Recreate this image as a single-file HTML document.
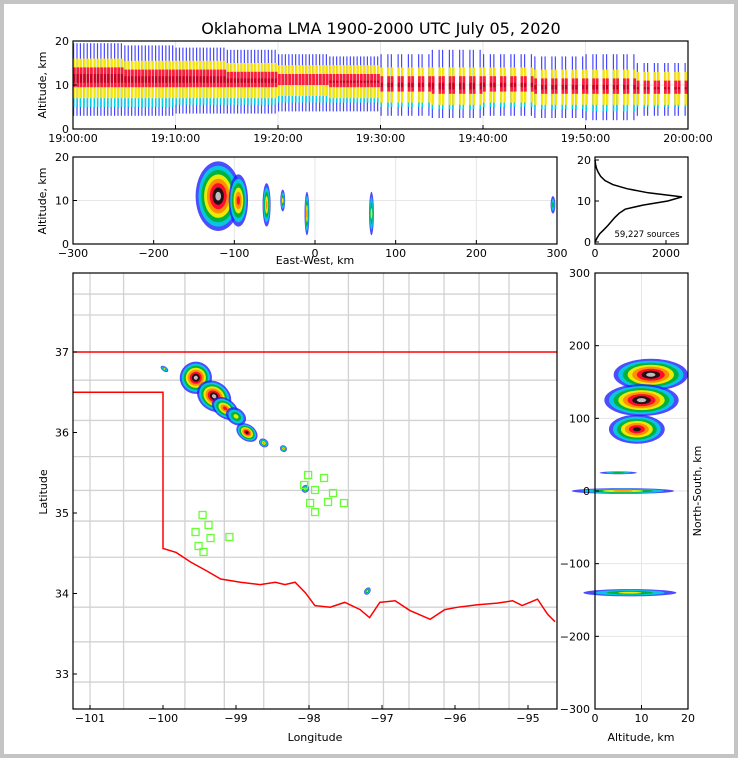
<!DOCTYPE html>
<html><head><meta charset="utf-8"><style>
html,body{margin:0;padding:0;background:#fff}
svg{display:block}
text{font-family:"DejaVu Sans","Liberation Sans",sans-serif;fill:#000}
</style></head><body>
<svg id="c" width="738" height="758" xmlns="http://www.w3.org/2000/svg">
<rect x="0" y="0" width="738" height="758" fill="#c4c4c4"/>
<rect x="4" y="4" width="730" height="750" fill="#fff"/>
<text x="381" y="34" font-size="16" text-anchor="middle">Oklahoma LMA 1900-2000 UTC July 05, 2020</text>
<g id="g"></g>
</svg>
<script>
// ---- data ----
const timeBinMin=[0,5,10,15,20,25,30,35,40,45,50,55];
const timeTop=[19.5,19,18.5,18,17,16.5,17,18,17,16.5,17,15];
const timeBot=[3,3,3.5,3.5,4,4,3,2.5,3,2.5,2,3];
const timeCoreTop=[14,13.5,13.5,13,12.5,12.5,12,12,12,11.5,11.5,11];
const timeCoreBot=[9.5,9.5,9.5,9.5,10,9.5,8.5,8,8.5,8,8,8];
const timeDensity=[1,1,0.95,0.9,0.8,0.7,0.65,0.6,0.55,0.5,0.5,0.45];

const ewCenters=[-120,-95,-60,-40,-10,70,295];
const ewAltCenters=[11,10,9,10,7,7,9];
const ewHalfWidth=[28,12,5,3,3,3,3];
const ewAltHalf=[8,6,5,2.5,5,5,2];
const ewIntensity=[5,3,2,1,2,1,0];

const histAlt=[0,1,2,3,4,5,6,7,8,9,10,11,12,13,14,15,16,17,18,19,20];
const histCount=[0,60,130,250,360,460,560,680,850,1350,2050,2450,1500,900,500,280,160,90,40,15,0];
const histLabel="59,227 sources";

const mapLonTicks=[-101,-100,-99,-98,-97,-96,-95];
const mapLatTicks=[33,34,35,36,37];
const stormLon=[-99.55,-99.3,-99.15,-98.85,-98.62,-98.35,-98.05,-99.98,-97.2,-99.0];
const stormLat=[36.68,36.45,36.3,36.0,35.87,35.8,35.3,36.79,34.03,36.2];
const stormRx=[0.22,0.25,0.2,0.16,0.07,0.05,0.05,0.06,0.04,0.15];
const stormRy=[0.2,0.18,0.12,0.1,0.05,0.04,0.05,0.03,0.05,0.1];
const stormIntensity=[5,5,3,4,2,2,2,1,1,1];
const stationLon=[-99.458,-99.376,-99.554,-99.349,-99.513,-99.445,-99.090,-98.012,-97.794,-98.067,-97.917,-97.671,-97.985,-97.739,-97.521,-97.917];
const stationLat=[34.975,34.851,34.764,34.689,34.590,34.516,34.702,35.472,35.435,35.348,35.286,35.248,35.124,35.137,35.124,35.012];
const countyLon=[-101.0,-100.54,-99.7,-99.16,-98.62,-98.0,-97.46,-96.98,-96.63,-96.15,-95.67,-95.26];
const countyLat=[37.72,37.46,36.65,36.15,35.7,35.28,34.9,34.45,33.83,33.4,32.9];
const redRiverLon=[-100.0,-99.82,-99.62,-99.42,-99.21,-98.94,-98.67,-98.46,-98.33,-98.19,-98.05,-97.92,-97.71,-97.51,-97.3,-97.17,-97.03,-96.82,-96.62,-96.34,-96.14,-95.96,-95.69,-95.42,-95.21,-95.08,-94.87,-94.73,-94.63];
const redRiverLat=[34.56,34.51,34.39,34.29,34.18,34.14,34.11,34.14,34.11,34.14,34.01,33.85,33.83,33.89,33.8,33.7,33.89,33.91,33.79,33.68,33.8,33.83,33.86,33.88,33.91,33.85,33.93,33.74,33.65];

const nsCenters=[160,125,85,0,-140,25];
const nsAltCenters=[12,10,9,6,7.5,5];
const nsHalf=[22,22,20,4,5,2];
const nsAltHalf=[8,8,6,11,10,4];
const nsIntensity=[5,5,4,2,1,0];

// ---- helpers ----
const NS='http://www.w3.org/2000/svg';
const G=document.getElementById('g');
function mk(tag,attrs,parent){const e=document.createElementNS(NS,tag);for(const k in attrs)e.setAttribute(k,attrs[k]);(parent||G).appendChild(e);return e;}
function lin(d0,d1,r0,r1){return v=>r0+(v-d0)*(r1-r0)/(d1-d0);}
const ramp=['#2020ff','#00d0e0','#00b030','#ffee00','#ff8800','#ff0033','#111111','#cccccc'];

const P1={x0:73,x1:688,y0:41,y1:129};
const P2={x0:73,x1:557,y0:157,y1:244};
const P3={x0:595,x1:688,y0:157,y1:244};
const PM={x0:73,x1:557,y0:273,y1:709};
const PN={x0:595,x1:688,y0:273,y1:709};

function frame(P,name){const r=mk('rect',{x:P.x0,y:P.y0,width:P.x1-P.x0,height:P.y1-P.y0,fill:'none',stroke:'#000','stroke-width':1.2});

}
function txt(x,y,s,size,anchor,name,rot){const t=mk('text',{x:x,y:y,'font-size':size,'text-anchor':anchor});t.textContent=s;


if(rot)t.setAttribute('transform','rotate(-90 '+x+' '+y+')');return t;}
function grid(P,xs,ys){xs.forEach(x=>mk('line',{x1:x,x2:x,y1:P.y0,y2:P.y1,stroke:'#e6e6e6','stroke-width':1}));ys.forEach(y=>mk('line',{x1:P.x0,x2:P.x1,y1:y,y2:y,stroke:'#e6e6e6','stroke-width':1}));}
function tickX(P,x){mk('line',{x1:x,x2:x,y1:P.y1,y2:P.y1-4,stroke:'#000'});}
function tickY(P,y){mk('line',{x1:P.x0,x2:P.x0+4,y1:y,y2:y,stroke:'#000'});}
function blob(cx,cy,rx,ry,lvl,name,rot){
  for(let k=0;k<=Math.min(lvl+2,7);k++){
    const f=1-k/(lvl+3);
    const e=mk('ellipse',{cx:cx,cy:cy,rx:Math.max(rx*f,0.8),ry:Math.max(ry*f,0.8),fill:ramp[k],opacity:k==0?0.8:0.92});
    if(rot)e.setAttribute('transform','rotate('+rot+' '+cx+' '+cy+')');
    
    
  }
}

// ---- panel 1 ----
const xt=lin(0,60,P1.x0,P1.x1), ya1=lin(0,20,P1.y1,P1.y0);
grid(P1,[10,20,30,40,50].map(xt),[ya1(10)]);
for(let m=0;m<60;m++){
  const b=Math.floor(m/5);
  const d=timeDensity[b];
  for(let s=0;s<3;s++){
    if(d<0.7 && s==1) continue;
    const x=xt(m)+s*3.4;
    const layers=[[timeBot[b],timeTop[b],'#1a1aff',1.2],[timeBot[b]+2,timeTop[b]-4,'#00d8e8',1.6],[timeCoreBot[b]-2.5,timeCoreTop[b]+2,'#ffe600',2.4],[timeCoreBot[b],timeCoreTop[b],'#ff1040',2.8],[timeCoreBot[b]+1,timeCoreTop[b]-1.5,'#c00020',2.2],[timeCoreBot[b]+2,timeCoreTop[b]-2.5,'#222',d>0.8?1.5:0.8]];
    layers.forEach((L,i)=>{const r=mk('rect',{x:x,y:ya1(L[1]),width:L[3],height:ya1(L[0])-ya1(L[1]),fill:L[2],opacity:i==0?0.8:0.95});
      
      });
  }
}
frame(P1,'time-altitude-panel');
['19:00:00','19:10:00','19:20:00','19:30:00','19:40:00','19:50:00','20:00:00'].forEach((s,i)=>{tickX(P1,xt(i*10));txt(xt(i*10),142,s,11,'middle','time-tick-label');});
[0,10,20].forEach(v=>{tickY(P1,ya1(v));txt(P1.x0-4,ya1(v)+4,String(v),11,'end','altitude-tick-label');});
txt(46,85,'Altitude, km',11,'middle','time-panel-y-title',true);

// ---- panel 2 ----
const xe=lin(-300,300,P2.x0,P2.x1), ya2=lin(0,20,P2.y1,P2.y0);
grid(P2,[-200,-100,0,100,200].map(xe),[ya2(10)]);
ewCenters.forEach((c,i)=>blob(xe(c),ya2(ewAltCenters[i]),xe(c+ewHalfWidth[i])-xe(c),ya2(0)-ya2(ewAltHalf[i]),ewIntensity[i],'ew-source-cluster'));
frame(P2,'ew-altitude-panel');
[-300,-200,-100,0,100,200,300].forEach(v=>{tickX(P2,xe(v));txt(xe(v),257,String(v).replace('-','−'),11,'middle','ew-tick-label');});
[0,10,20].forEach(v=>{tickY(P2,ya2(v));txt(P2.x0-4,ya2(v)+4,String(v),11,'end','altitude-tick-label');});
txt(46,201,'Altitude, km',11,'middle','ew-panel-y-title',true);
txt(315,264,'East-West, km',11,'middle','ew-x-title');

// ---- panel 3 ----
const xh=lin(0,2000,P3.x0,666), ya3=lin(0,20,242,160);
mk('polyline',{points:histAlt.map((a,i)=>xh(histCount[i])+','+ya3(a)).join(' '),fill:'none',stroke:'#000','stroke-width':1.5});
frame(P3,'altitude-histogram-panel');
[0,2000].forEach(v=>{tickX(P3,xh(v));txt(xh(v),257,String(v),11,'middle','histogram-tick-label');});
[0,10,20].forEach(v=>{tickY(P3,ya3(v));txt(P3.x0-4,ya3(v)+4,String(v),11,'end','histogram-altitude-tick');});
txt(647,237,histLabel,8.5,'middle','source-count-label');

// ---- map ----
const xl=lin(-101,-95,90,528), yl=lin(37,33,352,674);
countyLon.forEach(l=>{const e=mk('line',{x1:xl(l),x2:xl(l),y1:PM.y0,y2:PM.y1,stroke:'#d2d2d2','stroke-width':1.3});
  
  });
countyLat.forEach(l=>{const e=mk('line',{x1:PM.x0,x2:PM.x1,y1:yl(l),y2:yl(l),stroke:'#d2d2d2','stroke-width':1.3});
  
  });
let sp=mk('polyline',{points:[[PM.x0,yl(36.5)],[xl(-100),yl(36.5)]].map(p=>p.join(',')).join(' ')+' '+redRiverLon.map((l,i)=>xl(l)+','+yl(redRiverLat[i])).join(' '),fill:'none',stroke:'#ff0000','stroke-width':1.5});


let nb=mk('line',{x1:PM.x0,x2:PM.x1,y1:yl(37),y2:yl(37),stroke:'#ff0000','stroke-width':1.5});


stormLon.forEach((l,i)=>blob(xl(l),yl(stormLat[i]),xl(l+stormRx[i])-xl(l),yl(0)-yl(stormRy[i]),stormIntensity[i],'storm-source-cluster',35));
stationLon.forEach((l,i)=>{const r=mk('rect',{x:xl(l)-3.5,y:yl(stationLat[i])-3.5,width:7,height:7,fill:'none',stroke:'#66ff33','stroke-width':1.3});
  
  });
frame(PM,'plan-view-map');
mapLonTicks.forEach(v=>{tickX(PM,xl(v));txt(xl(v),722,String(v).replace('-','−'),11,'middle','longitude-tick-label');});
mapLatTicks.forEach(v=>{tickY(PM,yl(v));txt(PM.x0-4,yl(v)+4,String(v),11,'end','latitude-tick-label');});
txt(315,741,'Longitude',11,'middle','map-x-title');
txt(47,492,'Latitude',11,'middle','map-y-title',true);

// ---- NS panel ----
const xn=lin(0,20,PN.x0,PN.x1), yn=lin(-300,300,PN.y1,PN.y0);
grid(PN,[xn(10)],[-200,-100,0,100,200].map(yn));
nsCenters.forEach((c,i)=>blob(xn(nsAltCenters[i]),yn(c),xn(nsAltHalf[i])-xn(0),yn(0)-yn(nsHalf[i]),nsIntensity[i],'ns-source-cluster'));
frame(PN,'ns-altitude-panel');
[0,10,20].forEach(v=>{tickX(PN,xn(v));txt(xn(v),722,String(v),11,'middle','ns-altitude-tick');});
[-300,-200,-100,0,100,200,300].forEach(v=>{tickY(PN,yn(v));txt(PN.x0-5,yn(v)+4,String(v).replace('-','−'),11,'end','ns-tick-label');});
txt(641,741,'Altitude, km',11,'middle','ns-x-title');
txt(701,491,'North-South, km',11,'middle','ns-y-title',true);
</script>
</body></html>
